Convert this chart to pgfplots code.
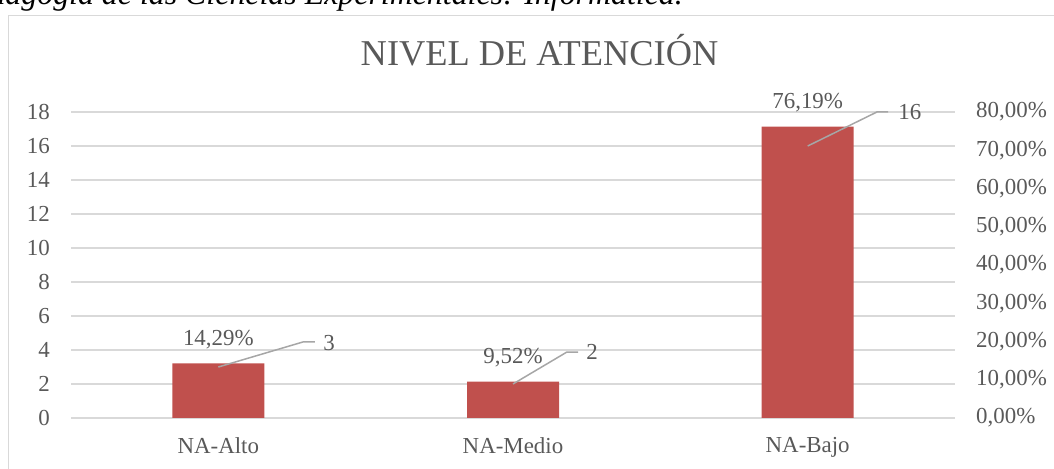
\documentclass[border=0pt]{standalone}
\usepackage{fontspec}
\setmainfont{Liberation Serif}
\usepackage{pgfplots}
\pgfplotsset{compat=1.18}
\definecolor{barred}{HTML}{C0504D}
\definecolor{txtgray}{HTML}{595959}
\definecolor{gridgray}{HTML}{D9D9D9}
\definecolor{leadgray}{HTML}{A6A6A6}
\newcommand{\lbl}{\fontsize{23}{27}\selectfont}
\begin{document}
\begin{tikzpicture}[x=1bp,y=1bp]
\clip (0,0) rectangle (1054,469);
\node[anchor=base east, font=\fontsize{32}{36}\selectfont\itshape, text=black, inner sep=0pt] at (683,464) {Pedagogía de las Ciencias Experimentales: Informática.};
\draw[gridgray, line width=1.2bp] (8.5,453.5) -- (1075,453.5) -- (1075,-10) -- (8.5,-10) -- cycle;
\node[font=\fontsize{36.5}{41}\selectfont, text=txtgray, anchor=base, inner sep=0pt] at (539.5,403) {NIVEL DE ATENCIÓN};

\begin{axis}[
  at={(71bp,51bp)}, anchor=south west,
  scale only axis, width=884bp, height=306bp,
  xmin=-0.5, xmax=2.5, ymin=0, ymax=18,
  axis line style={draw=none}, tick style={draw=none},
  ytick={0,2,...,18}, ymajorgrids, grid style={gridgray, line width=1.2bp},
  xtick={0,1,2}, xticklabels={NA-Alto,NA-Medio,NA-Bajo},
  tick label style={text=txtgray, font=\lbl, inner sep=0pt},
  yticklabel style={xshift=-21bp},
  xticklabel style={yshift=-19bp},
  /pgf/number format/assume math mode=true,
]
\addplot[draw=none, forget plot] coordinates {(0,0)};
\end{axis}

\begin{axis}[
  at={(71bp,51bp)}, anchor=south west,
  scale only axis, width=884bp, height=306bp,
  xmin=-0.5, xmax=2.5, ymin=0, ymax=80,
  axis y line*=right, axis x line=none,
  axis line style={draw=none}, tick style={draw=none},
  ytick={0,10,...,80},
  yticklabel={\pgfmathprintnumber[fixed,fixed zerofill,precision=2,use comma]{\tick}\%},
  yticklabel style={xshift=21bp, text=txtgray, font=\lbl, inner sep=0pt},
  /pgf/number format/assume math mode=true,
  xtick=\empty,
  ybar, bar width=92bp,
  point meta=y,
  nodes near coords={\pgfmathprintnumber[fixed,fixed zerofill,precision=2,use comma]{\pgfplotspointmeta}\%},
  nodes near coords style={text=txtgray, font=\lbl, inner sep=0pt, yshift=14bp},
  clip=false,
]
\addplot[fill=barred, draw=none] coordinates {(0,14.29) (1,9.52) (2,76.19)};
\draw[leadgray, line width=1.5bp] (axis cs:0,13.33) -- (axis cs:0.287,19.87) -- (axis cs:0.328,19.87);
\draw[leadgray, line width=1.5bp] (axis cs:1,8.89) -- (axis cs:1.183,17.25) -- (axis cs:1.221,17.25);
\draw[leadgray, line width=1.5bp] (axis cs:2,71.1) -- (axis cs:2.235,80) -- (axis cs:2.273,80);
\node[text=txtgray, font=\lbl, inner sep=0pt] at (axis cs:0.376,19.5) {3};
\node[text=txtgray, font=\lbl, inner sep=0pt] at (axis cs:1.268,17.4) {2};
\node[text=txtgray, font=\lbl, inner sep=0pt] at (axis cs:2.347,79.9) {16};
\end{axis}
\end{tikzpicture}
\end{document}
